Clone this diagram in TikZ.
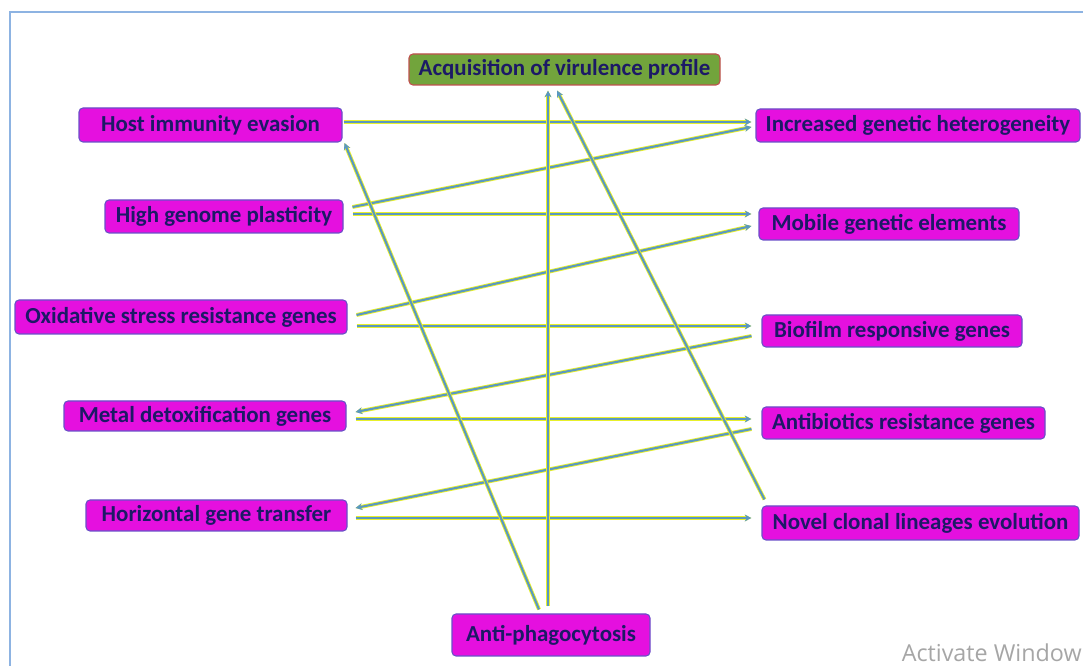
\documentclass[tikz,border=0pt]{standalone}
\usepackage{fontspec}
\setmainfont{Carlito}
\newfontfamily\wmfont{Open Sans}
\usetikzlibrary{calc,arrows.meta}
\definecolor{boxfill}{HTML}{E510DF}
\definecolor{boxdraw}{HTML}{6A4FC8}
\definecolor{txt}{HTML}{1C1966}
\definecolor{acqfill}{HTML}{72A43C}
\definecolor{acqdraw}{HTML}{C0504D}
\definecolor{glow}{HTML}{E8F02A}
\definecolor{core}{HTML}{5A98C0}
\definecolor{frame}{HTML}{8DB3E2}
\begin{document}
\begin{tikzpicture}[x=0.75pt,y=-0.75pt,
  box/.style={draw=boxdraw, fill=boxfill, line width=0.8pt, rounded corners=3pt,
    text=txt, font=\fontsize{17.2}{20}\selectfont\bfseries, inner sep=0pt, align=center},
  acqbox/.style={box, draw=acqdraw, fill=acqfill},
  conn/.style={draw=core, line width=1.6pt, -{Stealth[length=5pt,width=5pt]},
    preaction={draw=glow, line width=2.9pt}},
]
\useasboundingbox (0,0) rectangle (1083,666);
\fill[white] (0,0) rectangle (1083,666);
\begin{scope}
\clip (0,0) rectangle (1083,666);
\draw[frame, line width=0.8pt] (10,12) rectangle (1100,690);
\end{scope}
\node[text=black!35, font=\wmfont\fontsize{17.5}{20}\selectfont, anchor=base east, inner sep=0pt] (wm) at (1082,662) {Activate Window};

% nodes
\node[acqbox, minimum width=311*0.75pt, minimum height=31*0.75pt] (acq) at (564.5,69.5) {Acquisition of virulence profile};
\node[box, minimum width=263*0.75pt, minimum height=34*0.75pt] (host) at (210.5,125) {Host immunity evasion};
\node[box, minimum width=238*0.75pt, minimum height=33*0.75pt] (high) at (224,216.5) {High genome plasticity};
\node[box, minimum width=332*0.75pt, minimum height=34*0.75pt] (oxi) at (181,317) {Oxidative stress resistance genes};
\node[box, minimum width=282*0.75pt, minimum height=30*0.75pt] (metal) at (205,416) {Metal detoxification genes};
\node[box, minimum width=261*0.75pt, minimum height=31*0.75pt] (horiz) at (216.5,515.5) {Horizontal gene transfer};
\node[box, minimum width=324*0.75pt, minimum height=33*0.75pt] (incr) at (918,125.5) {Increased genetic heterogeneity};
\node[box, minimum width=260*0.75pt, minimum height=32*0.75pt] (mob) at (889,224) {Mobile genetic elements};
\node[box, minimum width=260*0.75pt, minimum height=32*0.75pt] (bio) at (892,331) {Biofilm responsive genes};
\node[box, minimum width=283*0.75pt, minimum height=32*0.75pt] (anti) at (903.5,423) {Antibiotics resistance genes};
\node[box, minimum width=317*0.75pt, minimum height=34*0.75pt] (novel) at (920.5,523) {Novel clonal lineages evolution};
\node[box, minimum width=198*0.75pt, minimum height=42*0.75pt] (phago) at (551,635) {Anti-phagocytosis};

% connectors
\draw[conn] ($(host.east)+(1,-3)$) -- ($(incr.west)+(-4,-3.5)$);
\draw[conn] ($(high.east)+(9,-9.5)$) -- ($(incr.west)+(-4,1.5)$);
\draw[conn] ($(high.east)+(9,-2.5)$) -- ($(mob.west)+(-7,-10)$);
\draw[conn] ($(oxi.east)+(9,-2)$) -- ($(mob.west)+(-7,2)$);
\draw[conn] ($(oxi.east)+(9,9)$) -- ($(bio.west)+(-10,-5)$);
\draw[conn] ($(bio.west)+(-10,5)$) -- ($(metal.east)+(9,-4)$);
\draw[conn] ($(metal.east)+(9,3)$) -- ($(anti.west)+(-10,-4)$);
\draw[conn] ($(anti.west)+(-10,6)$) -- ($(horiz.east)+(8,-7.5)$);
\draw[conn] ($(horiz.east)+(8,2.5)$) -- ($(novel.west)+(-10,-5)$);
\draw[conn] ($(phago.north)+(-12,-4)$) -- ($(host.east)+(2,18)$);
\draw[conn] ($(phago.north)+(-3,-7)$) -- ($(acq.south)+(-16.5,5)$);
\draw[conn] ($(novel.north west)+(3,-6)$) -- ($(acq.south)+(-7.5,5)$);
\end{tikzpicture}
\end{document}
